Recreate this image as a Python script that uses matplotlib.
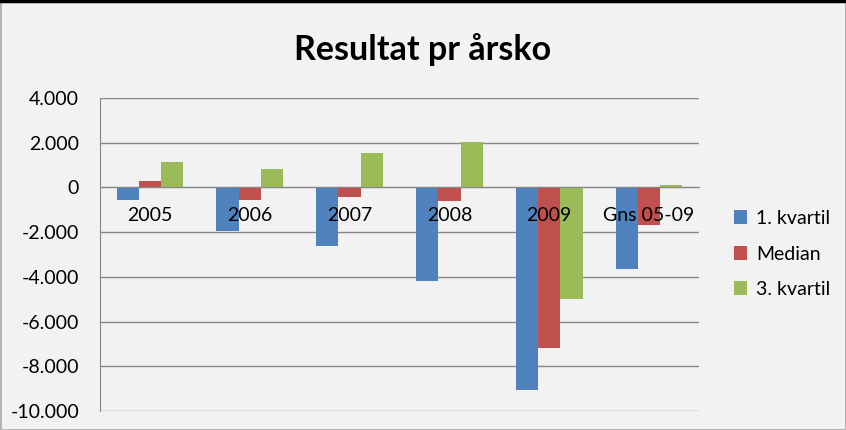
import numpy as np
import matplotlib
matplotlib.use("Agg")
import matplotlib.pyplot as plt
from matplotlib.ticker import FuncFormatter
from matplotlib.lines import Line2D

plt.rcParams['font.family'] = ['Lato', 'DejaVu Sans']

# data
categories = ['2005', '2006', '2007', '2008', '2009', 'Gns 05-09']
kvartil_1 = [-550, -1940, -2610, -4180, -9040, -3670]
median = [285, -550, -415, -610, -7160, -1700]
kvartil_3 = [1120, 840, 1540, 2030, -4980, 107]
series_names = ['1. kvartil', 'Median', '3. kvartil']
colors = ['#4F81BD', '#C0504D', '#9BBB59']
y_ticks = [4000, 2000, 0, -2000, -4000, -6000, -8000, -10000]

bg = '#f2f2f2'
fig = plt.figure(figsize=(8.46, 4.30), dpi=100, facecolor=bg)
ax = fig.add_axes([100 / 846, 1 - 411 / 430, 599 / 846, 313 / 430])
ax.set_facecolor(bg)

x = np.arange(len(categories))
w = 0.223
for i, (vals, name, col) in enumerate(zip([kvartil_1, median, kvartil_3], series_names, colors)):
    ax.bar(x + (i - 1) * w, vals, width=w, color=col, label=name, zorder=2)

ax.set_xlim(-0.5, len(categories) - 0.5)
ax.set_ylim(-10000, 4000)
ax.set_yticks(y_ticks)
ax.yaxis.set_major_formatter(FuncFormatter(lambda v, p: f"{v:,.0f}".replace(",", ".")))
ax.grid(axis='y', color='#878787', linewidth=1.0)
ax.set_axisbelow(True)

ax.set_xticks([])
ax.spines['bottom'].set_position(('data', 0))
ax.spines['bottom'].set_color('#878787')
ax.spines['left'].set_color('#878787')
ax.spines['top'].set_visible(False)
ax.spines['right'].set_visible(False)
ax.tick_params(axis='y', length=0, pad=15, labelsize=14)

# category labels sit just under the zero line, on top of the bars
for xi, cat in zip(x, categories):
    ax.annotate(cat, (xi, 0), xytext=(0, -20), textcoords='offset points',
                ha='center', va='center', fontsize=14, zorder=5)

fig.text(0.5, 1 - 50 / 430, 'Resultat pr årsko', ha='center', va='center',
         fontsize=24.5, fontweight='bold')

fig.legend(loc='center left', bbox_to_anchor=(724 / 846, 1 - 254 / 430),
           frameon=False, fontsize=14, handlelength=0.7, handleheight=0.7,
           handletextpad=0.45, labelspacing=0.95, borderpad=0)

# chart border
fig.patch.set_edgecolor('#b4b4b4')
fig.patch.set_linewidth(1.0)
fig.add_artist(Line2D([0, 1], [0.997, 0.997], transform=fig.transFigure, color='black', linewidth=2.5))

fig.savefig('out.png', dpi=100, facecolor=bg)
